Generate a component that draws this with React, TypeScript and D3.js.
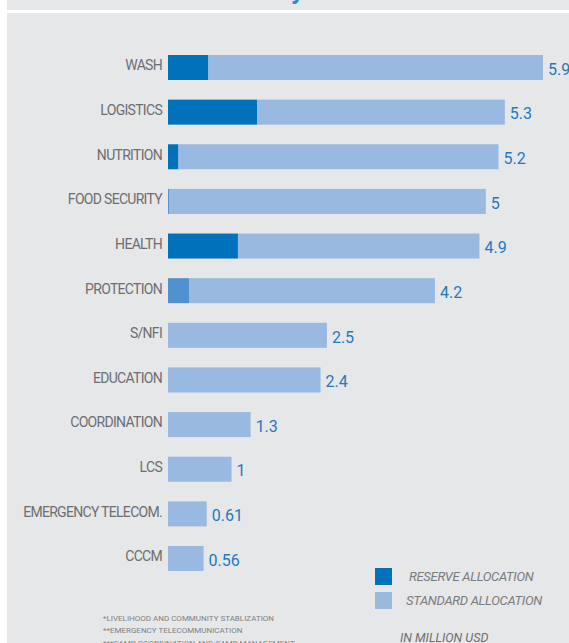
import React, { useEffect, useRef } from 'react';
import * as d3 from 'd3';

// clusters, top to bottom
const categories = [
  'WASH', 'LOGISTICS', 'NUTRITION', 'FOOD SECURITY', 'HEALTH', 'PROTECTION',
  'S/NFI', 'EDUCATION', 'COORDINATION', 'LCS', 'EMERGENCY TELECOM.', 'CCCM',
];
// total allocation, million USD
const totals = [5.9, 5.3, 5.2, 5, 4.9, 4.2, 2.5, 2.4, 1.3, 1, 0.61, 0.56];
// reserve part of each total
const reserve = [0.63, 1.4, 0.16, 0.015, 1.1, 0.33, 0, 0, 0, 0, 0, 0];

const legendItems = ['RESERVE ALLOCATION', 'STANDARD ALLOCATION'];
const footnotes = [
  '*LIVELIHOOD AND COMMUNITY STABLIZATION',
  '**EMERGENCY TELECOMMUNICATION',
  '***CAMP COORDINATION AND CAMP MANAGEMENT',
];

const W = 569;
const H = 643;
const BG = '#e6e7e9';
const RESERVE = '#0072bc';
const STANDARD = '#99b9e0';
const VALUE = '#1f78c1';
const LABEL = '#6d6e71';
const FONT = 'Roboto, sans-serif';

const App: React.FC = () => {
  const svgRef = useRef<SVGSVGElement>(null);

  useEffect(() => {
    if (!svgRef.current) return;
    const svg = d3.select(svgRef.current);
    svg.selectAll('*').remove();

    // panel background (top strip, white gap, main panel)
    svg.append('rect').attr('x', 0).attr('y', 0).attr('width', W).attr('height', H).attr('fill', '#fff');
    svg.append('rect').attr('x', 7).attr('y', 0).attr('width', W - 7).attr('height', 10).attr('fill', BG);
    svg.append('rect').attr('x', 7).attr('y', 13).attr('width', W - 7).attr('height', H - 13).attr('fill', BG);

    // tail of the title that sits above the crop
    svg.append('text')
      .attr('x', 291).attr('y', -1)
      .style('font-family', FONT).style('font-size', '26px').style('font-weight', '700')
      .style('fill', '#3f86c9')
      .text('y');

    const x = d3.scaleLinear().domain([0, 5.9]).range([168, 543]);
    const y = d3.scaleBand<string>().domain(categories).range([55, 571]).paddingInner(0.44).paddingOuter(0);

    const rows = categories.map((c, i) => ({ c, total: totals[i], res: reserve[i] }));

    const g = svg.append('g');

    // standard part
    g.selectAll('.std').data(rows).enter().append('rect')
      .attr('class', 'std')
      .attr('x', d => x(d.res))
      .attr('y', d => y(d.c)!)
      .attr('width', d => x(d.total) - x(d.res))
      .attr('height', y.bandwidth())
      .attr('fill', STANDARD);

    // reserve part
    g.selectAll('.res').data(rows.filter(d => d.res > 0)).enter().append('rect')
      .attr('class', 'res')
      .attr('x', x(0))
      .attr('y', d => y(d.c)!)
      .attr('width', d => x(d.res) - x(0))
      .attr('height', y.bandwidth())
      .attr('fill', d => (d.c === 'PROTECTION' || d.c === 'FOOD SECURITY' ? '#4f90cf' : RESERVE));

    // category labels
    g.selectAll('.lbl').data(rows).enter().append('text')
      .attr('x', 162)
      .attr('y', d => y(d.c)! + y.bandwidth() / 2 - 2)
      .attr('dy', '0.35em')
      .attr('text-anchor', 'end')
      .style('font-family', FONT).style('font-size', '14px')
      .style('letter-spacing', '-0.7px')
      .style('fill', LABEL)
      .text(d => d.c);

    // value labels
    g.selectAll('.val').data(rows).enter().append('text')
      .attr('x', d => x(d.total) + 5)
      .attr('y', d => y(d.c)! + y.bandwidth() / 2 + 1.5)
      .attr('dy', '0.36em')
      .style('font-family', FONT).style('font-size', '16px')
      .style('fill', VALUE)
      .text(d => String(d.total));

    // legend
    const lg = svg.append('g').attr('transform', 'translate(375,568)');
    legendItems.forEach((t, i) => {
      lg.append('rect').attr('x', 0).attr('y', i * 24).attr('width', 17).attr('height', 17)
        .attr('fill', i === 0 ? RESERVE : STANDARD);
      lg.append('text')
        .attr('x', i === 0 ? 34 : 31).attr('y', i * 24 + 13)
        .style('font-family', FONT).style('font-size', '13px').style('font-style', 'italic')
        .style('letter-spacing', '-0.3px')
        .style('fill', '#7a7b7e')
        .text(t);
    });

    svg.append('text')
      .attr('x', 400).attr('y', 642)
      .style('font-family', FONT).style('font-size', '12.5px').style('font-style', 'italic')
      .style('fill', '#6d6e71')
      .text('IN MILLION USD');

    // footnotes
    svg.selectAll('.fn').data(footnotes).enter().append('text')
      .attr('x', 103)
      .attr('y', (_, i) => 621 + i * 12.3)
      .style('font-family', FONT).style('font-size', '8px')
      .style('fill', '#808184')
      .text(d => d);
  }, []);

  return (
    <div style={{ position: 'absolute', left: 0, top: 0 }}>
      <svg ref={svgRef} width={W} height={H} viewBox={`0 0 ${W} ${H}`} style={{ display: 'block' }} />
    </div>
  );
};

export default App;
